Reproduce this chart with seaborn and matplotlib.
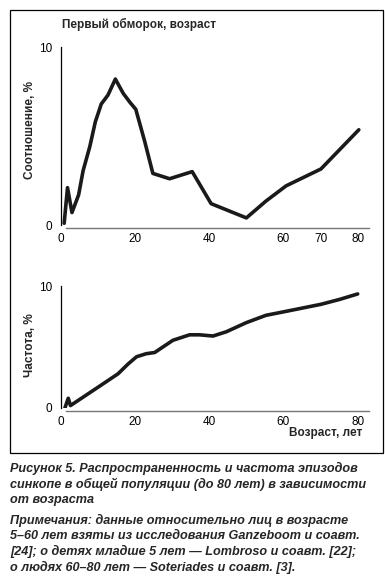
import matplotlib
matplotlib.use("Agg")
import matplotlib.pyplot as plt
import seaborn as sns
import pandas as pd

# Первый обморок: соотношение по возрасту
vozrast_1 = [0.9, 1.8, 3.0, 4.8, 6.0, 7.8, 9.3, 10.9, 12.7, 14.7, 16.8, 18.6, 20.2,
             22.6, 24.8, 29.3, 35.4, 40.5, 50.0, 55.3, 60.7, 70.1, 80.3]
sootnoshenie = [0.1, 2.1, 0.7, 1.7, 3.05, 4.4, 5.8, 6.8, 7.3, 8.2, 7.4, 6.9, 6.5,
                4.7, 2.9, 2.6, 3.0, 1.2, 0.4, 1.35, 2.2, 3.15, 5.35]

# Частота по возрасту
vozrast_2 = [1.1, 2.0, 2.6, 10.5, 15.4, 18.1, 20.4, 23.0, 25.3, 27.5, 30.2, 34.7,
             37.4, 41.0, 44.6, 50.0, 55.3, 60.3, 65.2, 70.1, 75.1, 80.0]
chastota = [0.0, 0.8, 0.2, 1.8, 2.8, 3.6, 4.2, 4.45, 4.55, 5.0, 5.55, 6.0,
            6.0, 5.9, 6.25, 7.0, 7.6, 7.9, 8.2, 8.5, 8.9, 9.35]

xticks_top = [0, 20, 40, 60, 70, 80]
xticks_bottom = [0, 20, 40, 60, 80]

df1 = pd.DataFrame({'Возраст': vozrast_1, 'Соотношение': sootnoshenie})
df2 = pd.DataFrame({'Возраст': vozrast_2, 'Частота': chastota})

sns.set_theme(style="white")
plt.rcParams['font.family'] = ['Liberation Sans', 'DejaVu Sans']

fig = plt.figure(figsize=(3.85, 5.77), dpi=100)

# рамка вокруг графиков
fig.add_artist(plt.Rectangle((0.026, 0.215), 0.969, 0.768, transform=fig.transFigure,
                             fill=False, edgecolor='black', linewidth=0.9))

ax1 = fig.add_axes([0.158, 0.610, 0.80, 0.3085])
ax2 = fig.add_axes([0.158, 0.2929, 0.80, 0.2114])

sns.lineplot(data=df1, x='Возраст', y='Соотношение', ax=ax1, color='#1a1a1a',
             linewidth=2.6, sort=False)
sns.lineplot(data=df2, x='Возраст', y='Частота', ax=ax2, color='#1a1a1a',
             linewidth=2.6, sort=False)

for ax, xt in [(ax1, xticks_top), (ax2, xticks_bottom)]:
    ax.set_xlim(0, 83)
    ax.set_ylim(0, 10)
    ax.set_yticks([0, 5, 10])
    ax.set_yticklabels(['0', '', '10'])
    ax.set_xticks(range(0, 81, 10))
    ax.set_xticklabels([str(v) if v in xt else '' for v in range(0, 81, 10)])
    ax.spines['top'].set_visible(False)
    ax.spines['right'].set_visible(False)
    ax.spines['left'].set_color('black')
    ax.spines['left'].set_linewidth(0.9)
    ax.spines['bottom'].set_color('#777777')
    ax.spines['bottom'].set_linewidth(1.0)
    ax.spines['bottom'].set_position(('outward', 2))
    ax.spines['bottom'].set_bounds(1.4, 83)
    ax.tick_params(axis='both', direction='out', length=4, width=0.8, color='black',
                   labelsize=8.5, pad=2, colors='black')
    ax.tick_params(axis='x', length=3, pad=1)
    ax.set_xlabel('')
    ax.set_ylabel('')
    ax.grid(False)
    ax.patch.set_alpha(0)

ax1.set_ylabel('Соотношение, %', fontsize=8.5, fontweight='bold')
ax2.set_ylabel('Частота, %', fontsize=8.5, fontweight='bold')
ax1.yaxis.set_label_coords(-0.08, 0.534)
ax2.yaxis.set_label_coords(-0.08, 0.516)

fig.text(0.161, 0.957, 'Первый обморок, возраст', fontsize=8.5, fontweight='bold',
         ha='left', va='center')
fig.text(0.940, 0.249, 'Возраст, лет', fontsize=8.5, fontweight='bold',
         ha='right', va='center')

caption = ('Рисунок 5. Распространенность и частота эпизодов\n'
           'синкопе в общей популяции (до 80 лет) в зависимости\n'
           'от возраста')
note = ('Примечания: данные относительно лиц в возрасте\n'
        '5–60 лет взяты из исследования Ganzeboom и соавт.\n'
        '[24]; о детях младше 5 лет — Lombroso и соавт. [22];\n'
        'о людях 60–80 лет — Soteriades и соавт. [3].')
fig.text(0.026, 0.200, caption, fontsize=9.1, fontweight='bold', style='italic',
         ha='left', va='top', linespacing=1.33)
fig.text(0.026, 0.110, note, fontsize=9.1, fontweight='bold', style='italic',
         ha='left', va='top', linespacing=1.33)

fig.savefig('out.png', dpi=100)
